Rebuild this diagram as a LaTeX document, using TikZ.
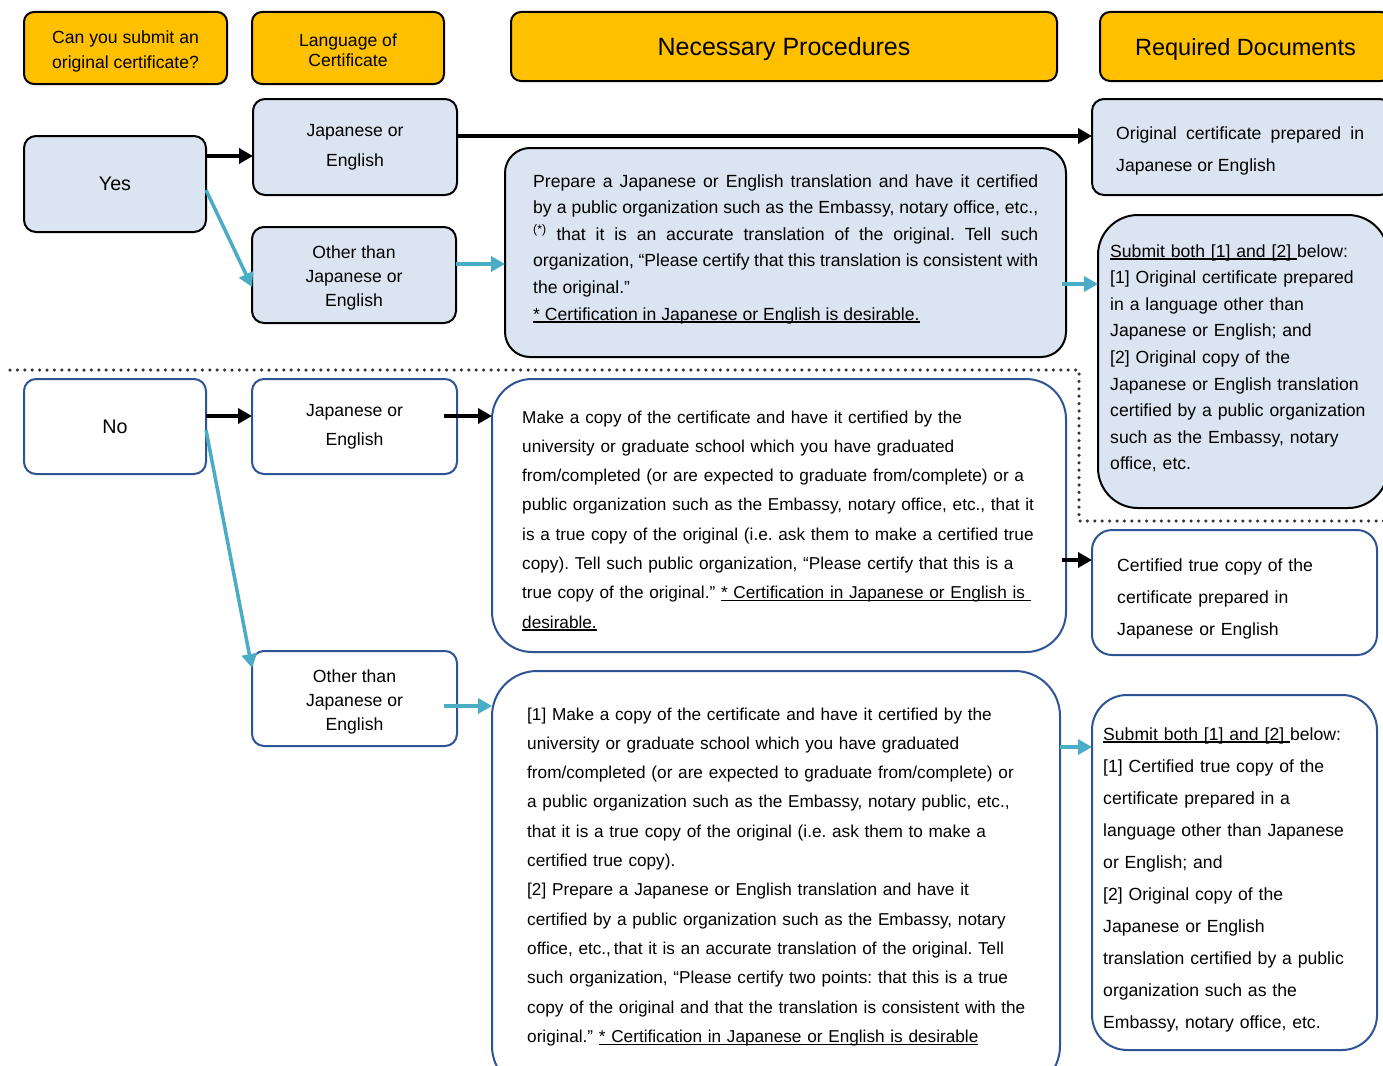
\documentclass[tikz,border=0pt]{standalone}
\usepackage{fontspec}
\setmainfont{Liberation Sans}
\usetikzlibrary{arrows.meta}

\definecolor{headorange}{HTML}{FFC000}
\definecolor{paleblue}{HTML}{DBE4F1}
\definecolor{boxblue}{HTML}{2F5496}
\definecolor{arrowteal}{HTML}{4BACC6}
\definecolor{dotgray}{HTML}{333333}

\newcommand{\uln}[1]{\leavevmode\setbox0\hbox{#1}\rlap{\rule[-2.5pt]{\wd0}{1.3pt}}\box0}

\begin{document}
\frenchspacing
\begin{tikzpicture}[x=1pt, y=-1pt,
  box/.style={draw, line width=2pt, anchor=north west, inner sep=0pt, outer sep=0pt, align=center, rounded corners=12pt},
  headbox/.style={box, fill=headorange, rounded corners=10pt, text depth=0pt},
  yesbox/.style={box, fill=paleblue},
  nobox/.style={box, draw=boxblue, fill=white},
  bodytext/.style={anchor=base west, inner sep=0pt, align=left, font=\fontsize{17.6}{#1}\selectfont},
  bodytext/.default=26.6,
  proctext/.style={bodytext=#1, font=\fontsize{17.2}{#1}\selectfont},
  blackarrow/.style={line width=4pt, -{Triangle[length=14pt,width=15pt]}},
  tealarrow/.style={arrowteal, line width=3.5pt, -{Triangle[length=14pt,width=15pt]}}
]

\useasboundingbox (0,0) rectangle (1383,1065);
\clip (0,0) rectangle (1383,1065);

% Headers
\node[headbox, minimum width=203pt, minimum height=72pt, font=\fontsize{17.6}{25}\selectfont] (ask) at (24,12) {\rule{0pt}{17pt}Can you submit an\\original certificate?};
\node[headbox, minimum width=192pt, minimum height=72pt, font=\fontsize{17.6}{20}\selectfont] (lang) at (252,12) {\rule{0pt}{17pt}Language of\\Certificate};
\node[headbox, minimum width=546pt, minimum height=69pt, font=\fontsize{25}{28}\selectfont] (proc) at (511,12) {Necessary Procedures};
\node[headbox, minimum width=291pt, minimum height=69pt, font=\fontsize{23.5}{28}\selectfont] (docs) at (1100,12) {Required Documents};

% Yes branch
\node[yesbox, minimum width=182pt, minimum height=96pt, font=\fontsize{19.7}{24}\selectfont] (yes) at (24,136) {Yes};
\node[yesbox, minimum width=204pt, minimum height=96pt, font=\fontsize{17.6}{30}\selectfont] (yesJE) at (253,99) {Japanese or\\English};
\node[yesbox, minimum width=204pt, minimum height=96pt, font=\fontsize{17.6}{24}\selectfont] (yesOT) at (252,227) {\rule{0pt}{19pt}Other than\\Japanese or\\English};
\node[yesbox, minimum width=561pt, minimum height=209pt, rounded corners=25pt] (yesProc) at (505,148) {};
\node[yesbox, minimum width=300pt, minimum height=96pt] (yesDocA) at (1092,99) {};
\node[yesbox, minimum width=290pt, minimum height=293pt, rounded corners=40pt] (yesDocB) at (1098,215) {};

\node[bodytext, text width=505pt, align=justify] (yesProcT) at (533,187)
  {Prepare a Japanese or English translation and have it certified\linebreak
   by a public organization such as the Embassy, notary office, etc.,\linebreak
   \textsuperscript{(*)} that it is an accurate translation of the original. Tell such\linebreak
   organization, “Please certify that this translation is consistent with\linebreak
   the original.”\\
   \uln{* Certification in Japanese or English is desirable.}};
\node[bodytext=32, text width=248pt, align=justify] (yesDocAT) at (1116,139)
  {Original certificate prepared in\linebreak Japanese or English};
\node[bodytext, text width=270pt] (yesDocBT) at (1110,257)
  {\uln{Submit both [1] and [2] }below:\\{}%
   [1] Original certificate prepared\\
   in a language other than\\
   Japanese or English; and\\{}%
   [2] Original copy of the\\
   Japanese or English translation\\
   certified by a public organization\\
   such as the Embassy, notary\\
   office, etc.};

\draw[blackarrow] ([yshift=28pt]yes.east) -- ([yshift=28pt]yes.east -| yesJE.west);
\draw[tealarrow] ([yshift=-6pt]yes.east) -- ([yshift=-12pt]yesOT.west);
\draw[blackarrow] ([yshift=11pt]yesJE.east) -- ([yshift=11pt]yesJE.east -| yesDocA.west);
\draw[tealarrow] ([yshift=11pt]yesOT.east) -- ([yshift=11pt]yesOT.east -| yesProc.west);
\draw[tealarrow] ([shift={(-4pt,-136pt)}]yesProc.north east) -- ([yshift=-136pt]yesProc.north east -| yesDocB.west);

% Separator
\draw[dotgray, line width=3.5pt, line cap=round, dash pattern=on 0pt off 7.4pt] (10,370) -- (1079,370) -- (1079,521) -- (1390,521);

% No branch
\node[nobox, minimum width=182pt, minimum height=95pt, font=\fontsize{19.7}{24}\selectfont] (no) at (24,379) {No};
\node[nobox, minimum width=205pt, minimum height=95pt, font=\fontsize{17.6}{29}\selectfont] (noJE) at (252,379) {Japanese or\\English};
\node[nobox, minimum width=205pt, minimum height=95pt, font=\fontsize{17.6}{24}\selectfont] (noOT) at (252,651) {\rule{0pt}{19pt}Other than\\Japanese or\\English};
\node[nobox, minimum width=574pt, minimum height=273pt, rounded corners=40pt] (noProcA) at (492,379) {};
\node[nobox, minimum width=568pt, minimum height=420pt, rounded corners=45pt] (noProcB) at (492,671) {};
\node[nobox, minimum width=285pt, minimum height=125pt, rounded corners=20pt] (noDocA) at (1092,530) {};
\node[nobox, minimum width=285pt, minimum height=355pt, rounded corners=35pt] (noDocB) at (1092,695) {};

\node[proctext=29.3, text width=540pt] (noProcAT) at (522,423)
  {Make a copy of the certificate and have it certified by the\\
   university or graduate school which you have graduated\\
   from/completed (or are expected to graduate from/complete) or a\\
   public organization such as the Embassy, notary office, etc., that it\\
   is a true copy of the original (i.e. ask them to make a certified true\\
   copy). Tell such public organization, “Please certify that this is a\\
   true copy of the original.” \uln{* Certification in Japanese or English is }\\
   \uln{desirable.}};
\node[proctext=29.3, text width=530pt] (noProcBT) at (527,720)
  {[1] Make a copy of the certificate and have it certified by the\\
   university or graduate school which you have graduated\\
   from/completed (or are expected to graduate from/complete) or\\
   a public organization such as the Embassy, notary public, etc.,\\
   that it is a true copy of the original (i.e. ask them to make a\\
   certified true copy).\\{}%
   [2] Prepare a Japanese or English translation and have it\\
   certified by a public organization such as the Embassy, notary\\
   office, etc.,\,that it is an accurate translation of the original. Tell\\
   such organization, “Please certify two points: that this is a true\\
   copy of the original and that the translation is consistent with the\\
   original.” \uln{* Certification in Japanese or English is desirable}};
\node[bodytext=32, text width=250pt] (noDocAT) at (1117,571)
  {Certified true copy of the\\
   certificate prepared in\\
   Japanese or English};
\node[bodytext=32, text width=270pt] (noDocBT) at (1103,740)
  {\uln{Submit both [1] and [2] }below:\\{}%
   [1] Certified true copy of the\\
   certificate prepared in a\\
   language other than Japanese\\
   or English; and\\{}%
   [2] Original copy of the\\
   Japanese or English\\
   translation certified by a public\\
   organization such as the\\
   Embassy, notary office, etc.};

\draw[blackarrow] ([yshift=10.5pt]no.east) -- ([yshift=10.5pt]no.east -| noJE.west);
\draw[tealarrow] ([yshift=-3.5pt]no.east) -- ([yshift=30.5pt]noOT.west);
\draw[blackarrow] ([shift={(-13pt,10.5pt)}]noJE.east) -- ([yshift=10.5pt]noJE.east -| noProcA.west);
\draw[tealarrow] ([shift={(-13pt,-7.5pt)}]noOT.east) -- ([yshift=-7.5pt]noOT.east -| noProcB.west);
\draw[blackarrow] ([shift={(-4pt,-181pt)}]noProcA.north east) -- ([yshift=-181pt]noProcA.north east -| noDocA.west);
\draw[tealarrow] ([yshift=-76pt]noProcB.north east) -- ([yshift=-76pt]noProcB.north east -| noDocB.west);

\end{tikzpicture}
\end{document}
